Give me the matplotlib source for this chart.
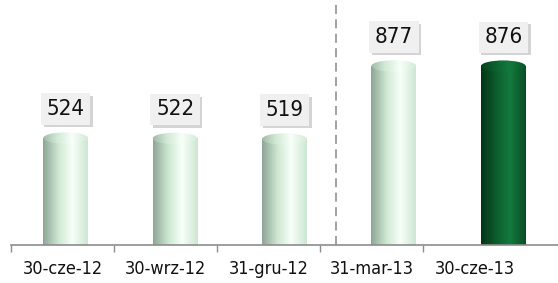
import numpy as np
import matplotlib
matplotlib.use('Agg')
import matplotlib.pyplot as plt
from matplotlib.colors import LinearSegmentedColormap
from matplotlib.patches import Rectangle, Ellipse
import matplotlib.patheffects as pe

categories = ['30-cze-12', '30-wrz-12', '31-gru-12', '31-mar-13', '30-cze-13']
values = [524, 522, 519, 877, 876]
dark_bar = [False, False, False, False, True]

plt.rcParams['font.family'] = ['DejaVu Sans']
plt.rcParams['font.stretch'] = 'condensed'

light_cmap = LinearSegmentedColormap.from_list(
    'light', [(0.0, '#8ea596'), (0.35, '#cfe8d4'), (0.65, '#f8fff9'), (1.0, '#cde6d2')])
dark_cmap = LinearSegmentedColormap.from_list(
    'dark', [(0.0, '#053418'), (0.4, '#0e6430'), (0.65, '#137a3d'), (1.0, '#0a4d25')])

fig = plt.figure(figsize=(5.58, 2.83), dpi=100)
ax = fig.add_axes([11 / 558, 38 / 283, 547 / 558, 245 / 283])
ax.set_xlim(-0.5, 4.5)
ax.set_ylim(0, 1200)

bar_w = 0.41
cap_h = 28
grad = np.linspace(0, 1, 256).reshape(1, -1)

for i, (v, dark) in enumerate(zip(values, dark_bar)):
    cmap = dark_cmap if dark else light_cmap
    x0 = i - bar_w / 2
    body = ax.imshow(grad, cmap=cmap, extent=(x0, x0 + bar_w, 0, v),
                     aspect='auto', zorder=2, interpolation='bilinear')
    rect = Rectangle((x0, 0), bar_w, v, transform=ax.transData)
    body.set_clip_path(rect)
    cap = ax.imshow(grad * 0.85 + 0.1, cmap=cmap, vmin=0, vmax=1,
                    extent=(x0, x0 + bar_w, v - cap_h, v + cap_h),
                    aspect='auto', zorder=2.1, interpolation='bilinear')
    ell = Ellipse((i, v), bar_w, cap_h * 2, transform=ax.transData)
    cap.set_clip_path(ell)

    t = ax.text(i, v + 142, str(v), ha='center', va='center', fontsize=16,
                color='#111111', zorder=5,
                bbox=dict(boxstyle='square,pad=0.25', fc='#f0f0f0', ec='none'))
    t.get_bbox_patch().set_path_effects(
        [pe.SimplePatchShadow(offset=(2, -2), shadow_rgbFace='#aaaaaa', alpha=0.5),
         pe.Normal()])

ax.axvline(2.47, color='#9a9a9a', linestyle=(0, (5, 3)), linewidth=1.3, zorder=1)

for s in ['top', 'right', 'left']:
    ax.spines[s].set_visible(False)
ax.spines['bottom'].set_color('#8c8c8c')
ax.spines['bottom'].set_linewidth(1.2)
ax.set_yticks([])

# labels are spaced a bit tighter than the bars in the original
step = 103 / 109.4
ax.set_xticks([-0.5 + (k + 0.5) * step for k in range(5)])
ax.set_xticklabels(categories, fontsize=13, color='#111111')
ax.tick_params(axis='x', which='major', length=0, pad=11)
ax.set_xticks([-0.5 + k * step for k in range(5)], minor=True)
ax.tick_params(axis='x', which='minor', length=5, color='#8c8c8c', width=1)

fig.savefig('out.png', dpi=100)
